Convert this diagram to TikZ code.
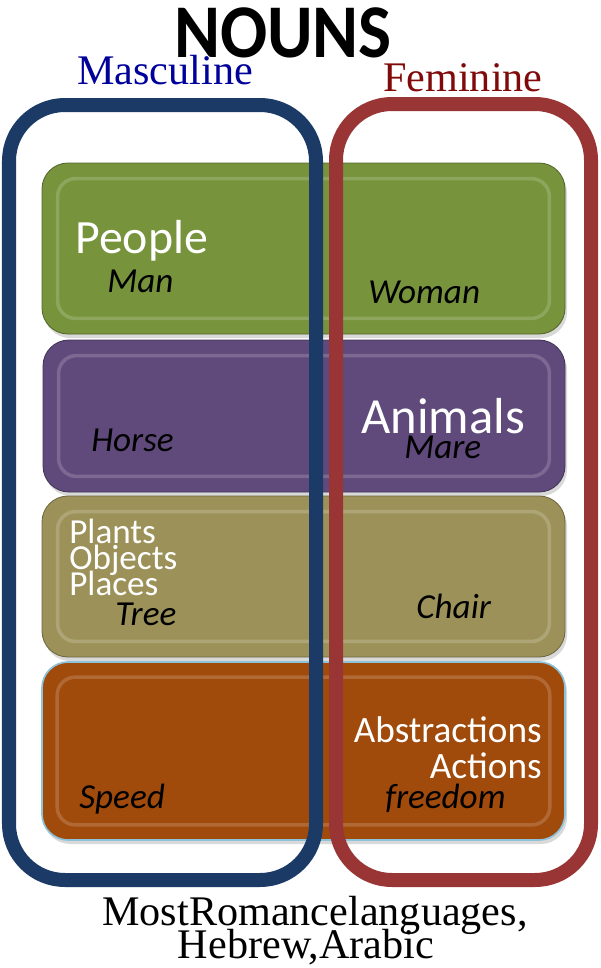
\documentclass[tikz,border=0pt]{standalone}
\usepackage{fontspec}
\setmainfont{Liberation Serif}
\newfontfamily\calib{Carlito}
\usetikzlibrary{fit,shadows}
\definecolor{bandgreen}{HTML}{77933C}
\definecolor{bandpurple}{HTML}{604A7B}
\definecolor{bandkhaki}{HTML}{9C9259}
\definecolor{bandorange}{HTML}{A04A0B}
\definecolor{ringblue}{HTML}{1B3A66}
\definecolor{ringred}{HTML}{993535}
\definecolor{mascblue}{HTML}{00009A}
\definecolor{femred}{HTML}{800A0A}
\definecolor{edgesky}{HTML}{8CC3DA}

\begin{document}
\begin{tikzpicture}[x=0.25mm, y=-0.25mm,
    band/.style={draw=#1!70!black, line width=0.6pt, fill=#1, rounded corners=6.5mm, inner sep=0pt,
      drop shadow={opacity=0.3, shadow xshift=0.5mm, shadow yshift=-1mm}},
    hilite/.style={draw=#1!50!white, line width=2.5pt, rounded corners=4.5mm, opacity=0.35},
    ring/.style={line width=3.5mm, rounded corners=14mm},
    catlabel/.style={font=\calib\fontsize{#1}{#1}\selectfont, text=white, inner sep=0pt},
    wordlabel/.style={font=\calib\itshape\fontsize{25}{25}\selectfont, inner sep=0pt},
    serif/.style={font=\fontsize{30}{30}\selectfont, inner sep=0pt}]
  \useasboundingbox (0,0) rectangle (600,968);
  % the four bands
  \node[band=bandgreen, fit={(42,163) (565,334)}] (peopleband) {};
  \node[band=bandpurple, fit={(43,340) (565,492)}] (animalband) {};
  \node[band=bandkhaki, fit={(42,496) (565,657)}] (thingband) {};
  \node[band=bandorange, draw=edgesky, line width=1.2pt, fit={(42,662) (565,840)}] (ideaband) {};
  \foreach \b/\c in {peopleband/bandgreen, animalband/bandpurple, thingband/bandkhaki, ideaband/bandorange}
    \draw[hilite=\c] ([shift={(16,16)}]\b.north west) rectangle ([shift={(-16,-16)}]\b.south east);
  % gender rings
  \draw[ring, draw=ringblue] (9,105) rectangle (316,880);
  \draw[ring, draw=ringred] (336,104) rectangle (591,880);
  % headings
  \node[font=\calib\bfseries\fontsize{54}{54}\selectfont, inner sep=0pt, anchor=base] (title) at (283,57) {\scalebox{0.92}[1]{NOUNS}};
  \node[serif, text=mascblue, anchor=base west] (masc) at (77,84) {Masculine};
  \node[serif, text=femred, anchor=base west] (fem) at (383,91) {Feminine};
  % band texts
  \node[catlabel=34, anchor=base west] (people) at (75,253) {People};
  \node[wordlabel, anchor=base west] (man) at (107,292) {Man};
  \node[wordlabel, anchor=base west] (woman) at (368,303) {Woman};
  \node[catlabel=36, anchor=base west] (animals) at (361,433) {Animals};
  \node[wordlabel, anchor=base west] (horse) at (91,451) {Horse};
  \node[wordlabel, anchor=base west] (mare) at (404,458) {Mare};
  \node[catlabel=25, anchor=base west] (plants) at (69,543) {Plants};
  \node[catlabel=25, anchor=base west] (objects) at (69,569) {Objects};
  \node[catlabel=25, anchor=base west] (places) at (69,595) {Places};
  \node[wordlabel, anchor=base west] (tree) at (115,625) {Tree};
  \node[wordlabel, anchor=base west] (chair) at (416,618) {Chair};
  \node[catlabel=26.5, anchor=base east] (abstr) at (542,742) {Abstractions};
  \node[catlabel=26.5, anchor=base east] (actions) at (542,778) {Actions};
  \node[wordlabel, anchor=base west] (speed) at (79,808) {Speed};
  \node[wordlabel, anchor=base west] (freedom) at (385,808) {freedom};
  % languages
  \node[serif, anchor=base] (langs) at (315,925) {MostRomancelanguages,};
  \node[serif, anchor=base] (langs2) at (306,958) {Hebrew,Arabic};
\end{tikzpicture}
\end{document}
